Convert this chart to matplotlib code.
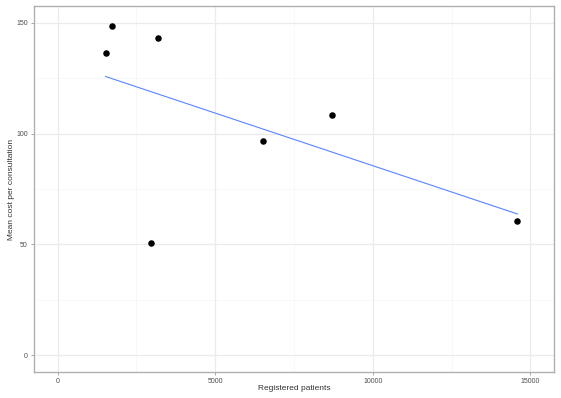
import numpy as np
import matplotlib
matplotlib.use("Agg")
import matplotlib.pyplot as plt

plt.rcParams['font.family'] = ['Liberation Sans', 'DejaVu Sans']

registered_patients = [1520, 1740, 3200, 2975, 6520, 8700, 14590]
mean_cost = [136.4, 148.6, 143.2, 50.6, 96.7, 108.4, 60.5]
x_ticks = [0, 5000, 10000, 15000]
y_ticks = [0, 50, 100, 150]

W, H = 561, 398
fig = plt.figure(figsize=(W / 100, H / 100), dpi=100)
left, right, top, bottom = 34, 554, 6, 372
ax = fig.add_axes([left / W, 1 - bottom / H, (right - left) / W, (bottom - top) / H])

x = np.array(registered_patients, dtype=float)
y = np.array(mean_cost, dtype=float)

ax.set_xlim(-750, 15750)
ax.set_ylim(-7.5, 157.5)

# grid
for v in x_ticks:
    ax.axvline(v, color='#ebebeb', lw=0.9, zorder=0)
for v in [2500, 7500, 12500]:
    ax.axvline(v, color='#f5f5f5', lw=0.5, zorder=0)
for v in y_ticks:
    ax.axhline(v, color='#ebebeb', lw=0.9, zorder=0)
for v in [25, 75, 125]:
    ax.axhline(v, color='#f5f5f5', lw=0.5, zorder=0)

slope, intercept = np.polyfit(x, y, 1)
xs = np.array([x.min(), x.max()])
ax.plot(xs, intercept + slope * xs, color='#5b84ff', lw=0.8, zorder=2)

ax.scatter(x, y, s=22, color='black', zorder=3, linewidths=0)

ax.set_xticks(x_ticks)
ax.set_yticks(y_ticks)
ax.set_xticklabels([str(v) for v in x_ticks])
ax.set_yticklabels([str(v) for v in y_ticks])
ax.tick_params(axis='both', labelsize=5, colors='#999999', length=2.5, width=0.6, pad=2)
for lab in ax.get_xticklabels() + ax.get_yticklabels():
    lab.set_color('#4d4d4d')

for s in ax.spines.values():
    s.set_color('#b0b0b0')
    s.set_linewidth(1.0)

ax.set_xlabel('Registered patients', fontsize=6, color='#333333', va='center')
ax.set_ylabel('Mean cost per consultation', fontsize=6, color='#333333', va='center')
ax.xaxis.set_label_coords(0.5, -(389 - bottom) / (bottom - top))
ax.yaxis.set_label_coords((12 - left) / (right - left), 0.5)

fig.savefig('out.png', dpi=100)
